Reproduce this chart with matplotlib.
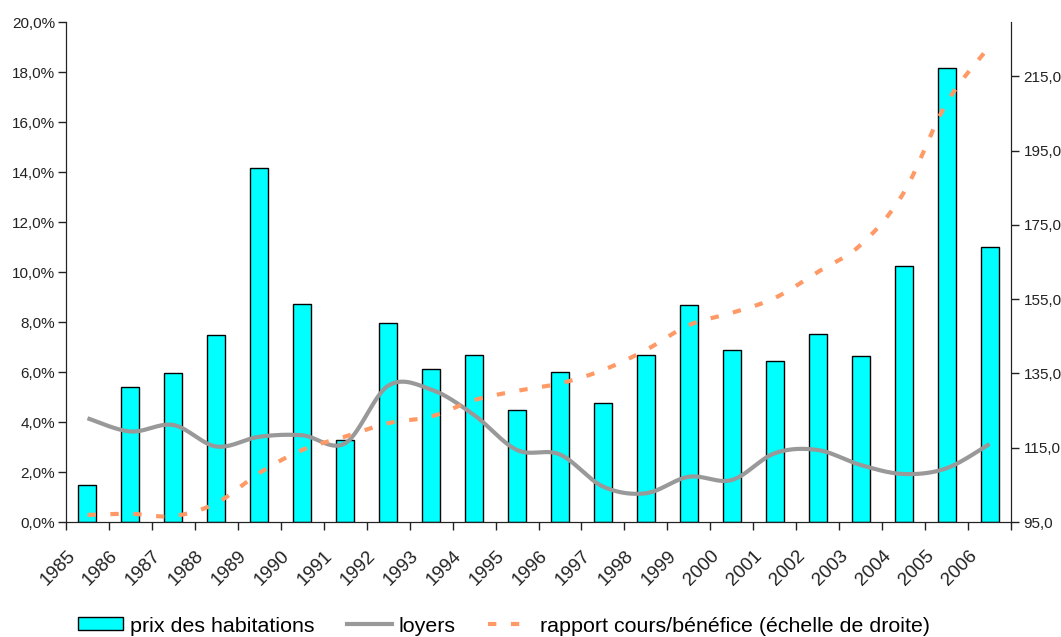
import numpy as np
import matplotlib
matplotlib.use("Agg")
import matplotlib.pyplot as plt
import matplotlib.transforms as mtransforms
from matplotlib.lines import Line2D
from matplotlib.patches import Patch

plt.rcParams["font.family"] = ["Liberation Sans", "DejaVu Sans"]

years = [str(y) for y in range(1985, 2007)]

# annual change in house prices (%), left axis
prix_habitations = [1.5, 5.42, 5.95, 7.47, 14.15, 8.72, 3.28, 7.95, 6.11, 6.68, 4.47,
                    5.99, 4.77, 6.68, 8.69, 6.88, 6.45, 7.51, 6.63, 10.24, 18.15, 11.01]
# annual change in rents (%), left axis
loyers = [4.15, 3.62, 3.88, 3.02, 3.41, 3.47, 3.15, 5.45, 5.3, 4.28, 2.88,
          2.7, 1.42, 1.15, 1.81, 1.68, 2.75, 2.88, 2.28, 1.92, 2.15, 3.12]
# price / earnings ratio, right axis
rapport_pe = [96.9, 97.2, 96.6, 100.1, 108.2, 114.4, 118.0, 121.6, 123.4, 127.8, 130.3,
              132.3, 135.9, 141.3, 148.0, 151.3, 155.3, 162.3, 169.6, 183.6, 207.8, 223.0]


def smooth(x, y, n=30):
    # Bezier smoothing through every point (control points at p1 + (p2 - p0) / 6)
    x = np.asarray(x, float)
    y = np.asarray(y, float)
    px = np.concatenate([[x[0]], x, [x[-1]]])
    py = np.concatenate([[y[0]], y, [y[-1]]])
    xs, ys = [], []
    t = np.linspace(0, 1, n)
    for i in range(1, len(px) - 2):
        b0x, b0y = px[i], py[i]
        b3x, b3y = px[i + 1], py[i + 1]
        b1x = b0x + (px[i + 1] - px[i - 1]) / 6
        b1y = b0y + (py[i + 1] - py[i - 1]) / 6
        b2x = b3x - (px[i + 2] - px[i]) / 6
        b2y = b3y - (py[i + 2] - py[i]) / 6
        xs.append((1 - t) ** 3 * b0x + 3 * (1 - t) ** 2 * t * b1x + 3 * (1 - t) * t ** 2 * b2x + t ** 3 * b3x)
        ys.append((1 - t) ** 3 * b0y + 3 * (1 - t) ** 2 * t * b1y + 3 * (1 - t) * t ** 2 * b2y + t ** 3 * b3y)
    return np.concatenate(xs), np.concatenate(ys)


fig = plt.figure(figsize=(10.61, 6.37), dpi=100)
ax = fig.add_axes([66 / 1061, 1 - 522 / 637, (1011 - 66) / 1061, 500 / 637])
ax2 = ax.twinx()

x = np.arange(len(years))
ax.bar(x, prix_habitations, width=0.42, color="#00FFFF", edgecolor="black", linewidth=1, zorder=2)

lx, ly = smooth(x, loyers)
ax.plot(lx, ly, color="#999999", linewidth=3, zorder=3, solid_capstyle="butt")

rx, ry = smooth(x, rapport_pe)
ax2.plot(rx, ry, color="#FF9966", linewidth=3, dashes=(2.0, 3.5), zorder=3)

ax.set_xlim(-0.5, len(years) - 0.5)
ax.set_ylim(0, 20)
ax2.set_ylim(95, 229.6)
ax.patch.set_visible(False)

# left axis
ax.set_yticks(np.arange(0, 21, 2))
ax.set_yticklabels([f"{v:.1f}%".replace(".", ",") for v in np.arange(0, 21, 2)])
# right axis
ax2.set_yticks(np.arange(95, 216, 20))
ax2.set_yticklabels([f"{v:.1f}".replace(".", ",") for v in np.arange(95, 216, 20)])

# tick marks between categories, labels at the category centres
ax.set_xticks(np.arange(-0.5, len(years), 1))
ax.set_xticklabels([])
ax.set_xticks(x, minor=True)
ax.set_xticklabels(years, minor=True, rotation=45, ha="right", va="center",
                   rotation_mode="anchor", fontsize=13.5, color="#222222")
ax.tick_params(axis="x", which="minor", length=0, pad=22.5)
offset = mtransforms.ScaledTranslation(-0.15, 0, fig.dpi_scale_trans)
for lab in ax.get_xticklabels(minor=True):
    lab.set_transform(lab.get_transform() + offset)

for a in (ax, ax2):
    a.tick_params(axis="both", which="major", direction="out", length=6, width=1,
                  colors="#222222", labelsize=11, labelcolor="#222222")
    for s in a.spines.values():
        s.set_color("#222222")
    a.spines["top"].set_visible(False)
ax.tick_params(axis="y", pad=2)
ax2.tick_params(axis="y", pad=3)

handles = [
    Patch(facecolor="#00FFFF", edgecolor="black", linewidth=1),
    Line2D([], [], color="#999999", linewidth=3),
    Line2D([], [], color="#FF9966", linewidth=3, dashes=(2.0, 3.5)),
]
labels = ["prix des habitations", "loyers", "rapport cours/bénéfice (échelle de droite)"]
fig.legend(handles, labels, loc="center", bbox_to_anchor=(504 / 1061, 1 - 626 / 637),
           ncol=3, frameon=False, fontsize=15.4, handlelength=2.1, handleheight=0.56,
           handletextpad=0.33, columnspacing=1.5, borderpad=0)

fig.savefig("out.png", dpi=100)
